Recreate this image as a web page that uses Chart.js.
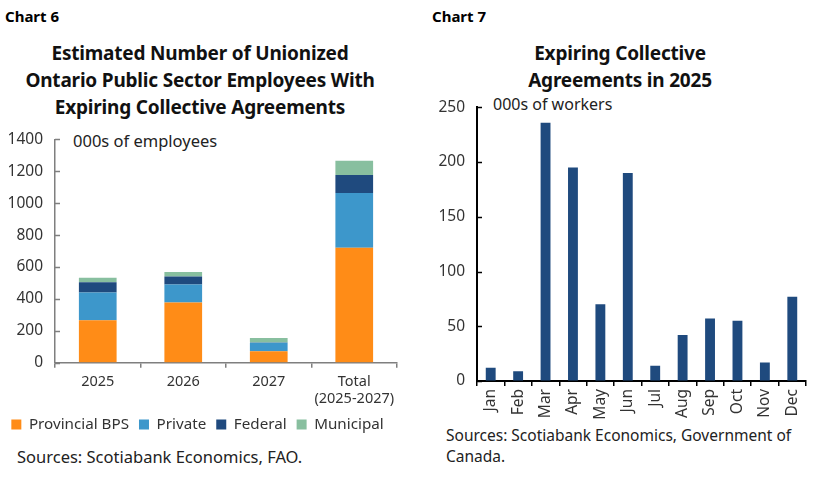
<!DOCTYPE html>
<html>
<head>
<meta charset="utf-8">
<script src="https://cdn.jsdelivr.net/npm/chart.js@4.4.1/dist/chart.umd.min.js"></script>
<style>
  body { margin: 0; background: #fff; width: 828px; height: 483px; position: relative; overflow: hidden; font-family: "Noto Sans", sans-serif; color: #222; }
  .txt { position: absolute; white-space: nowrap; }
  .lbl { font-weight: bold; font-size: 15px; color: #000; }
  .titre { font-weight: bold; font-size: 19px; text-align: center; line-height: 27px; color: #111; letter-spacing: -0.2px; }
  .note { font-size: 16.5px; color: #222; }
  .src { font-size: 16.5px; color: #222; line-height: 21px; }
  #caixa6 { position: absolute; left: -2px; top: 118px; width: 422px; height: 324px; }
  #caixa7 { position: absolute; left: 420px; top: 86px; width: 408px; height: 340px; }
</style>
</head>
<body>
<div class="txt lbl" style="left:5px; top:6px;">Chart 6</div>
<div class="txt lbl" style="left:432px; top:6px;">Chart 7</div>
<div class="txt titre" style="left:0; width:400px; top:40px;">Estimated Number of Unionized<br>Ontario Public Sector Employees With<br>Expiring Collective Agreements</div>
<div class="txt titre" style="left:430px; width:380px; top:40px;">Expiring Collective<br>Agreements in 2025</div>
<div class="txt note" style="left:73px; top:129px;">000s of employees</div>
<div class="txt note" style="left:493px; top:93px; font-size:16px;">000s of workers</div>
<div class="txt src" style="left:17px; top:446px;">Sources: Scotiabank Economics, FAO.</div>
<div class="txt src" style="left:446px; top:425px; font-size:15.5px;">Sources: Scotiabank Economics, Government of<br>Canada.</div>

<div id="caixa6"><canvas id="grafico6"></canvas></div>
<div id="caixa7"><canvas id="grafico7"></canvas></div>

<script>
// Chart 6 - trabalhadores sindicalizados com acordos a expirar
const anos = ['2025', '2026', '2027', ['Total', '(2025-2027)']];
const provincialBPS = [267, 378, 72, 720];
const privado = [174, 113, 54, 343];
const federal = [63, 49, 1, 113];
const municipal = [29, 29, 29, 90];

// Chart 7 - acordos a expirar em 2025
const meses = ['Jan', 'Feb', 'Mar', 'Apr', 'May', 'Jun', 'Jul', 'Aug', 'Sep', 'Oct', 'Nov', 'Dec'];
const trabalhadores = [12, 9, 236, 195, 70, 190, 14, 42, 57, 55, 17, 77];

const fonte = '"Noto Sans", sans-serif';

// tracinhos do eixo y virados para dentro
const ticksDentro = {
    id: 'ticksDentro',
    afterDraw(chart, args, opts) {
        const y = chart.scales.y;
        const ctx = chart.ctx;
        ctx.save();
        ctx.strokeStyle = opts.color;
        ctx.lineWidth = opts.width;
        y.ticks.forEach(t => {
            const py = Math.round(y.getPixelForValue(t.value)) + 0.5;
            ctx.beginPath();
            ctx.moveTo(y.right, py);
            ctx.lineTo(y.right + 5, py);
            ctx.stroke();
        });
        ctx.restore();
    }
};

function eixoY(max, passo, largura, cor, larguraLinha) {
    return {
        min: 0, max: max,
        afterFit: s => { s.width = largura; },
        ticks: { stepSize: passo, color: '#333', padding: 12, font: { family: fonte, size: 15.5 }, callback: v => String(v) },
        grid: { display: true, drawOnChartArea: false, drawTicks: false },
        border: { display: true, color: cor, width: larguraLinha }
    };
}

function configurarGrafico6() {
    const el = document.getElementById('grafico6');
    new Chart(el, {
        type: 'bar',
        data: {
            labels: anos,
            datasets: [
                { label: 'Provincial BPS', data: provincialBPS, backgroundColor: '#FF8C17' },
                { label: 'Private', data: privado, backgroundColor: '#3D97CB' },
                { label: 'Federal', data: federal, backgroundColor: '#1F4A7E' },
                { label: 'Municipal', data: municipal, backgroundColor: '#88BF9F' }
            ]
        },
        options: {
            responsive: true, maintainAspectRatio: false, animation: false,
            layout: { padding: { top: 4, right: 23, left: 0, bottom: 0 } },
            datasets: { bar: { barPercentage: 0.9, categoryPercentage: 0.49 } },
            plugins: {
                legend: {
                    position: 'bottom',
                    labels: { boxWidth: 10, boxHeight: 10, padding: 10, color: '#333', font: { family: fonte, size: 15.2 } }
                },
                tooltip: { enabled: false },
                ticksDentro: { color: '#7f7f7f', width: 1.5 }
            },
            scales: {
                x: {
                    stacked: true,
                    afterFit: s => { s.height = 44; },
                    ticks: { color: '#333', padding: 5, font: { family: fonte, size: 14.5 }, maxRotation: 0 },
                    grid: { display: true, drawOnChartArea: false, drawTicks: true, tickLength: 5, color: '#7f7f7f', lineWidth: 1.5 },
                    border: { display: true, color: '#7f7f7f', width: 1.5 }
                },
                y: Object.assign(eixoY(1400, 200, 57, '#7f7f7f', 1.5), { stacked: true })
            }
        },
        plugins: [ticksDentro]
    });
}

function configurarGrafico7() {
    const el = document.getElementById('grafico7');
    new Chart(el, {
        type: 'bar',
        data: {
            labels: meses,
            datasets: [{ label: 'Workers', data: trabalhadores, backgroundColor: '#1F4A7E' }]
        },
        options: {
            responsive: true, maintainAspectRatio: false, animation: false,
            layout: { padding: { top: 1, right: 22, left: 0, bottom: 0 } },
            datasets: { bar: { barPercentage: 0.9, categoryPercentage: 0.4 } },
            plugins: {
                legend: { display: false },
                tooltip: { enabled: false },
                ticksDentro: { color: '#000', width: 1.5 }
            },
            scales: {
                x: {
                    afterFit: s => { s.height = 45; },
                    ticks: { color: '#333', padding: 3, font: { family: fonte, size: 15.5 }, minRotation: 90, maxRotation: 90 },
                    grid: { display: true, drawOnChartArea: false, drawTicks: true, tickLength: 5, color: '#000', lineWidth: 1.5 },
                    border: { display: true, color: '#000', width: 2 }
                },
                y: eixoY(250, 50, 57, '#000', 2)
            }
        },
        plugins: [ticksDentro]
    });
}

document.addEventListener('DOMContentLoaded', function () {
    configurarGrafico6();
    configurarGrafico7();
});
</script>
</body>
</html>
